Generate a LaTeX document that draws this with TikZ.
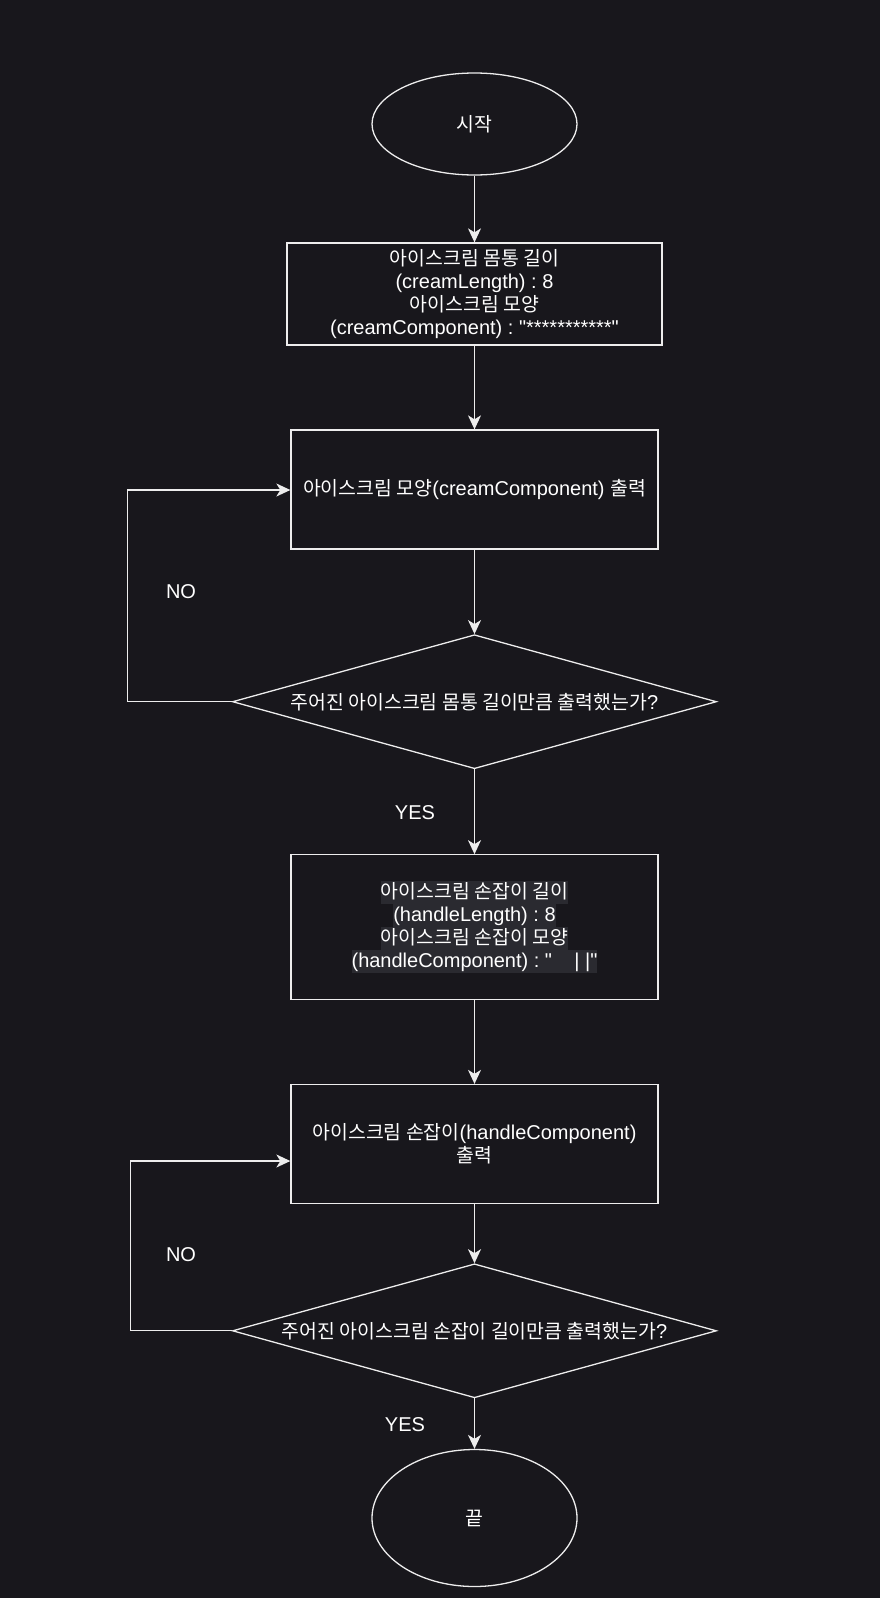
\documentclass[tikz,border=0pt]{standalone}
\usepackage{fontspec}
\setmainfont{Liberation Sans}
\newfontfamily\lat{Liberation Sans}
\newfontfamily\kr{Noto Sans CJK KR}[Scale=0.97]
\usetikzlibrary{shapes.geometric,arrows.meta}
\definecolor{bgc}{HTML}{18171C}
\definecolor{lnc}{HTML}{EDEDED}
\definecolor{hlc}{HTML}{2A2A30}
\setlength{\fboxsep}{0pt}
\frenchspacing
\newcommand\K[1]{{\kr #1}}
\newcommand\HL[1]{\colorbox{hlc}{\rule[-6pt]{0pt}{23pt}#1}}
\begin{document}
\begin{tikzpicture}[x=1pt,y=-1pt,
  every node/.style={text=white,font=\lat\fontsize{20}{23}\selectfont\frenchspacing},
  box/.style={draw=lnc,line width=1.3pt,rectangle,inner sep=0pt,align=center,minimum width=367pt},
  term/.style={draw=lnc,line width=1.3pt,ellipse,inner sep=0pt,minimum width=205pt},
  dec/.style={draw=lnc,line width=1.3pt,diamond,inner sep=0pt,aspect=3.6,minimum width=484pt,minimum height=134pt},
  lbl/.style={inner sep=0pt},
  arr/.style={draw=lnc,line width=1.3pt,-{Stealth[length=14pt,width=13pt,inset=4pt]}}]
\useasboundingbox (0,0) rectangle (880,1598);
\fill[bgc] (0,0) rectangle (880,1598);

\node[term,minimum height=102pt] (start) at (474.5,124) {\K{시작}};
\node[box,minimum width=375pt,minimum height=102pt] (b1) at (474.5,294)
  {\K{아이스크림 몸통 길이}\\(creamLength) : 8\\\K{아이스크림 모양}\\(creamComponent) : "***********"};
\node[box,minimum height=119pt] (b2) at (474.5,489.5) {\K{아이스크림 모양}(creamComponent) \K{출력}};
\node[dec] (d1) at (474.5,701.7) {\K{주어진 아이스크림 몸통 길이만큼 출력했는가}?};
\node[box,minimum height=145pt] (b3) at (474.5,927.3)
  {\HL{\K{아이스크림 손잡이 길이}}\\\HL{(handleLength) : 8}\\\HL{\K{아이스크림 손잡이 모양}}\\\HL{(handleComponent) : "\ \ \ \ |\ |"}};
\node[box,minimum height=119pt] (b4) at (474.5,1144) {\K{아이스크림 손잡이}(handleComponent)\\\K{출력}};
\node[dec] (d2) at (474.5,1330.8) {\K{주어진 아이스크림 손잡이 길이만큼 출력했는가}?};
\node[term,minimum height=137pt] (end) at (474.5,1518) {\K{끝}};

\node[lbl] (no1) at (181,591.7) {NO};
\node[lbl] (yes1) at (415,812.7) {YES};
\node[lbl] (no2) at (181,1254.6) {NO};
\node[lbl] (yes2) at (405,1425) {YES};

\coordinate (l1) at (127.7,490);
\coordinate (l2) at (130.4,1161);

\draw[arr] (start) -- (b1);
\draw[arr] (b1) -- (b2);
\draw[arr] (b2) -- (d1);
\draw[arr] (d1) -- (b3);
\draw[arr] (b3) -- (b4);
\draw[arr] (b4) -- (d2);
\draw[arr] (d2) -- (end);
\draw[arr] (d1.west) -| (l1) -- (l1 -| b2.west);
\draw[arr] (d2.west) -| (l2) -- (l2 -| b4.west);
\end{tikzpicture}
\end{document}
